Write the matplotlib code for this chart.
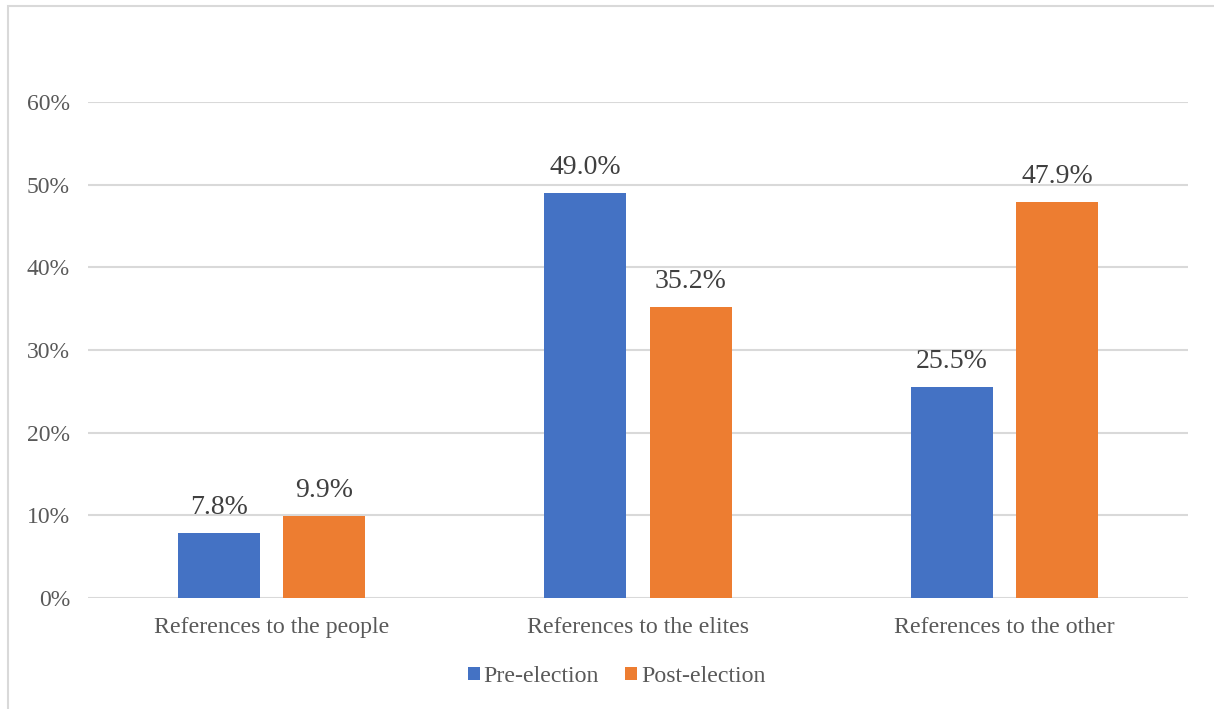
import numpy as np
import matplotlib.pyplot as plt
from matplotlib.patches import Rectangle

# Data
categories = ['References to the people', 'References to the elites', 'References to the other']
pre_election = [7.8, 49.0, 25.5]
post_election = [9.9, 35.2, 47.9]
series_names = ['Pre-election', 'Post-election']
yticks = [0, 10, 20, 30, 40, 50, 60]

colors = ['#4472C4', '#ED7D31']
plt.rcParams['font.family'] = ['Liberation Serif', 'DejaVu Serif']

fig = plt.figure(figsize=(12.14, 7.09), dpi=100)
ax = fig.add_axes([0.0725, 0.1566, 0.9061, 0.6996])

# Outer chart frame (left and top edges only)
fig.patches.append(Rectangle((8 / 1214, -0.1), 1.2, 1.0915, transform=fig.transFigure,
                             fill=False, edgecolor='#D9D9D9', linewidth=1.5))

x = np.arange(len(categories))
width = 0.224
offset = 0.1435

bars1 = ax.bar(x - offset, pre_election, width, color=colors[0], label=series_names[0], zorder=3)
bars2 = ax.bar(x + offset, post_election, width, color=colors[1], label=series_names[1], zorder=3)

for bars, vals in [(bars1, pre_election), (bars2, post_election)]:
    for b, v in zip(bars, vals):
        ax.text(b.get_x() + b.get_width() / 2, v + 2.3, f'{v:.1f}%', ha='center', va='baseline',
                fontsize=20, color='#404040', zorder=4)

ax.set_xlim(-0.5, 2.5)
ax.set_ylim(0, 60)
ax.set_yticks(yticks)
ax.set_yticklabels([f'{t}%' for t in yticks])
ax.set_xticks(x)
ax.set_xticklabels(categories)
ax.tick_params(axis='y', length=0, pad=13, labelsize=17, labelcolor='#595959')
ax.tick_params(axis='x', length=0, pad=14, labelsize=17.2, labelcolor='#595959')
ax.grid(axis='y', color='#D9D9D9', linewidth=1.5, zorder=0)
ax.set_axisbelow(True)
for s in ax.spines.values():
    s.set_visible(False)

fig.legend(loc='center', bbox_to_anchor=(0.508, 0.046), ncol=2, frameon=False,
           handlelength=0.5, handleheight=0.5, handletextpad=0.15, columnspacing=1.1,
           prop={'size': 17.2}, labelcolor='#595959')

fig.savefig('out.png', dpi=100)
